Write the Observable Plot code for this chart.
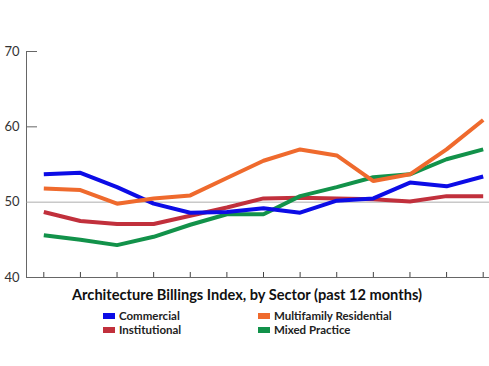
<!DOCTYPE html>
<html>
<head>
<meta charset="utf-8">
<script src="https://cdn.jsdelivr.net/npm/d3@7"></script>
<script src="https://cdn.jsdelivr.net/npm/@observablehq/plot@0.6"></script>
<style>
  body { margin: 0; background: #fff; }
  #wrap { position: relative; width: 489px; height: 366px; font-family: Lato, "Open Sans", sans-serif; color: #111; }
  #title { position: absolute; left: 0; width: 494px; top: 286px; text-align: center; font-weight: 700; font-size: 14.6px; }
  .leg { position: absolute; font-size: 11.5px; font-weight: 700; color: #222; white-space: nowrap; }
  .sw { display: inline-block; width: 12px; height: 6px; margin-right: 4px; vertical-align: 1px; }
</style>
</head>
<body>
<div id="wrap">
  <div id="chart"></div>
  <div id="title"></div>
  <div id="legend"></div>
</div>
<script>
const months = [0,1,2,3,4,5,6,7,8,9,10,11,12];
const seriesNames = ["Commercial", "Institutional", "Multifamily Residential", "Mixed Practice"];
const seriesColors = ["#0c0ce6", "#c1303c", "#ef6a2d", "#12924a"];
const commercial    = [53.7, 53.9, 52.0, 49.8, 48.6, 48.7, 49.2, 48.6, 50.2, 50.5, 52.6, 52.1, 53.4];
const institutional = [48.7, 47.5, 47.1, 47.1, 48.2, 49.3, 50.5, 50.6, 50.5, 50.4, 50.1, 50.8, 50.8];
const multifamily   = [51.8, 51.6, 49.8, 50.5, 50.9, 53.2, 55.5, 57.0, 56.2, 52.8, 53.7, 57.0, 60.9];
const mixed         = [45.6, 45.0, 44.3, 45.4, 47.0, 48.4, 48.4, 50.8, 52.0, 53.3, 53.7, 55.7, 57.0];
const yTicks = [40, 50, 60, 70];
const titleText = "Architecture Billings Index, by Sector (past 12 months)";

const valuesBySeries = {
  "Commercial": commercial,
  "Institutional": institutional,
  "Multifamily Residential": multifamily,
  "Mixed Practice": mixed
};
const drawOrder = ["Institutional", "Mixed Practice", "Commercial", "Multifamily Residential"];
const rows = drawOrder.flatMap(s => months.map((m, i) => ({series: s, month: m, value: valuesBySeries[s][i]})));

const chart = Plot.plot({
  width: 489,
  height: 285,
  marginLeft: 26,
  marginRight: 0,
  marginTop: 51,
  marginBottom: 8,
  x: {domain: [0, 12], range: [43.3, 482.7], axis: null},
  y: {domain: [40, 70], axis: null},
  color: {domain: seriesNames, range: seriesColors},
  style: {fontFamily: "Lato, 'Open Sans', sans-serif", overflow: "visible"},
  marks: [
    Plot.frame({anchor: "left", stroke: "#666", strokeWidth: 1}),
    Plot.ruleY([50], {stroke: "#999", strokeWidth: 0.8}),
    Plot.ruleY([40], {stroke: "#666", strokeWidth: 1.2}),
    Plot.axisY({ticks: [60, 70], tickSize: 11, dx: 11, tickFormat: () => "", stroke: "#666", label: null}),
    Plot.axisY({ticks: yTicks, tickSize: 0, tickPadding: 7, fontSize: 13, fill: "#333", label: null}),
    Plot.axisX({ticks: months, tickSize: 5, dy: -5, tickFormat: () => "", stroke: "#444", label: null}),
    Plot.line(rows, {x: "month", y: "value", z: "series", stroke: "series", strokeWidth: 4, strokeLinejoin: "miter", strokeLinecap: "butt"})
  ]
});
document.getElementById("chart").appendChild(chart);
document.getElementById("title").textContent = titleText;

const legendPos = [
  {name: "Commercial", left: 103, top: 309},
  {name: "Institutional", left: 103, top: 323},
  {name: "Multifamily Residential", left: 258, top: 309},
  {name: "Mixed Practice", left: 258, top: 323}
];
const leg = document.getElementById("legend");
legendPos.forEach(p => {
  const d = document.createElement("div");
  d.className = "leg";
  d.style.left = p.left + "px";
  d.style.top = p.top + "px";
  const sw = document.createElement("span");
  sw.className = "sw";
  sw.style.background = seriesColors[seriesNames.indexOf(p.name)];
  d.appendChild(sw);
  d.appendChild(document.createTextNode(p.name));
  leg.appendChild(d);
});
</script>
</body>
</html>
